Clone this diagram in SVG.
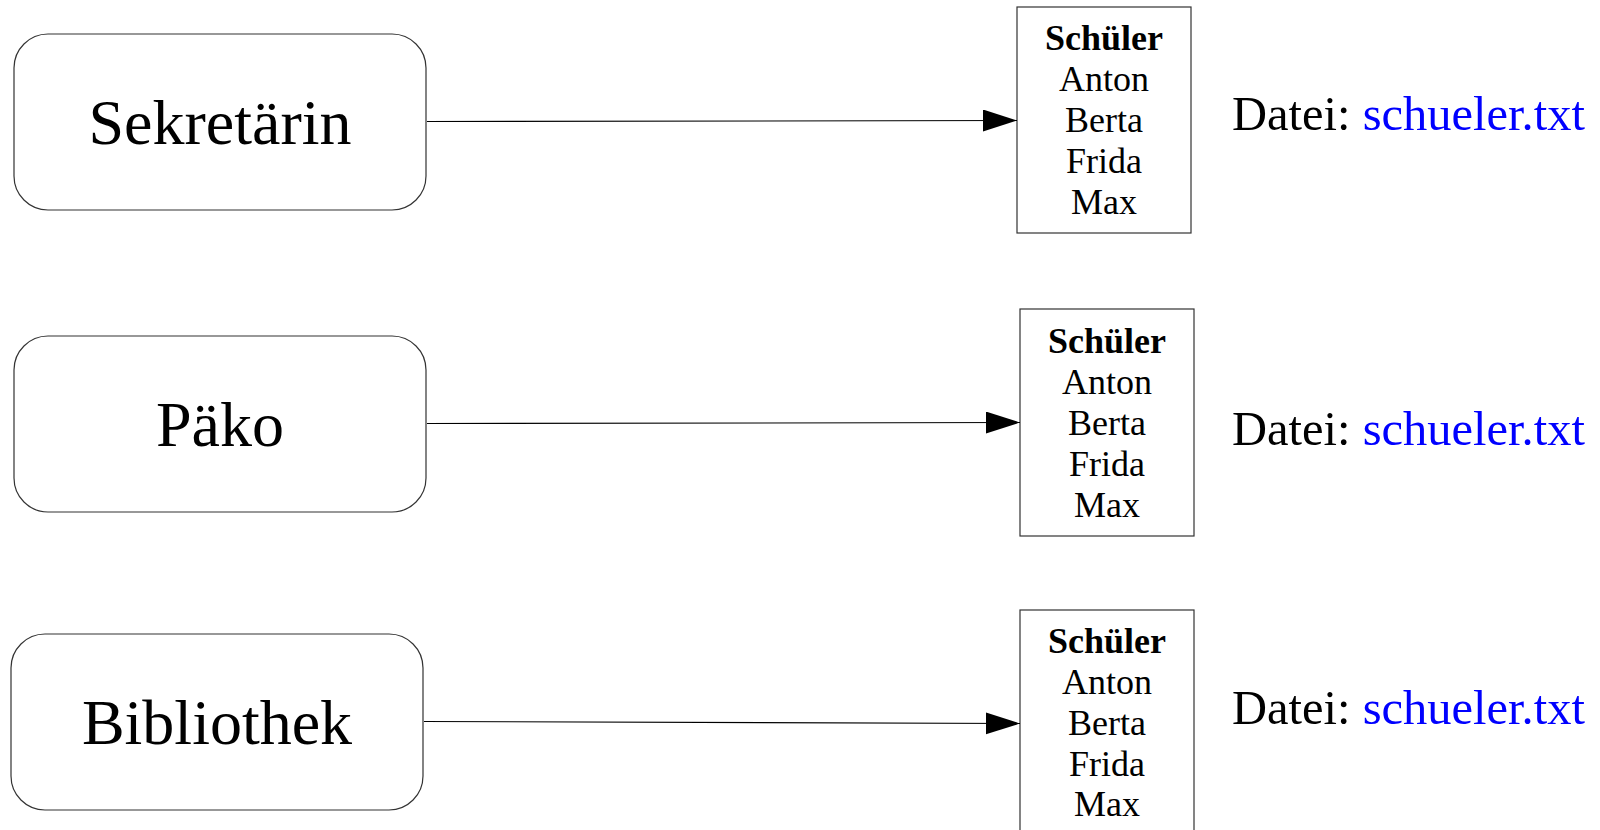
<svg xmlns="http://www.w3.org/2000/svg" width="1600" height="830" viewBox="0 0 1600 830">
<style>
.node{fill:#fff;stroke:#333;stroke-width:1.2}
.big{font-family:"Liberation Serif","Times New Roman",serif;font-size:64px;fill:#000;text-anchor:middle}
.lst{font-family:"Liberation Serif","Times New Roman",serif;font-size:36px;fill:#000;text-anchor:middle}
.hd{font-weight:bold}
.dat{font-family:"Liberation Serif","Times New Roman",serif;font-size:48.5px;fill:#000}
.blue{fill:#0000ff}
.edge{stroke:#000;stroke-width:1.1;fill:none;marker-end:url(#arr)}
</style>
<defs>
<marker id="arr" markerUnits="userSpaceOnUse" markerWidth="36" markerHeight="24" refX="34" refY="11" orient="auto">
<path d="M0,0 L34,11 L0,22 Z" fill="#000"/>
</marker>
</defs>
<rect width="1600" height="830" fill="#fff"/>
<g id="sekretaerin">
<rect class="node" x="14" y="34" width="412" height="176" rx="34"/>
<text class="big" x="220" y="144">Sekretärin</text>
</g>
<g id="paeko">
<rect class="node" x="14" y="336" width="412" height="176" rx="34"/>
<text class="big" x="220" y="446">Päko</text>
</g>
<g id="bibliothek">
<rect class="node" x="11" y="634" width="412" height="176" rx="34"/>
<text class="big" x="217" y="744">Bibliothek</text>
</g>
<g id="liste1">
<rect class="node" x="1017" y="7" width="174" height="226"/>
<text class="lst hd" x="1104" y="50">Schüler</text>
<text class="lst" x="1104" y="91">Anton</text>
<text class="lst" x="1104" y="132">Berta</text>
<text class="lst" x="1104" y="173">Frida</text>
<text class="lst" x="1104" y="214">Max</text>
</g>
<g id="liste2">
<rect class="node" x="1020" y="309" width="174" height="227"/>
<text class="lst hd" x="1107" y="353">Schüler</text>
<text class="lst" x="1107" y="394">Anton</text>
<text class="lst" x="1107" y="435">Berta</text>
<text class="lst" x="1107" y="476">Frida</text>
<text class="lst" x="1107" y="517">Max</text>
</g>
<g id="liste3">
<rect class="node" x="1020" y="610" width="174" height="240"/>
<text class="lst hd" x="1107" y="653">Schüler</text>
<text class="lst" x="1107" y="694">Anton</text>
<text class="lst" x="1107" y="735">Berta</text>
<text class="lst" x="1107" y="776">Frida</text>
<text class="lst" x="1107" y="816">Max</text>
</g>
<g id="datei1"><text class="dat" x="1232" y="130">Datei: <tspan class="blue">schueler.txt</tspan></text></g>
<g id="datei2"><text class="dat" x="1232" y="445">Datei: <tspan class="blue">schueler.txt</tspan></text></g>
<g id="datei3"><text class="dat" x="1232" y="724">Datei: <tspan class="blue">schueler.txt</tspan></text></g>
<g id="connectors">
<line class="edge" x1="427" y1="121.5" x2="1017" y2="120.5"/>
<line class="edge" x1="427" y1="423.5" x2="1020" y2="422.5"/>
<line class="edge" x1="424" y1="721.5" x2="1020" y2="723.5"/>
</g>
</svg>
